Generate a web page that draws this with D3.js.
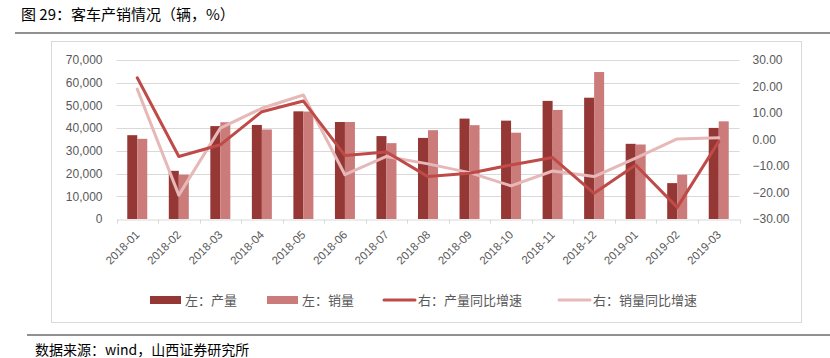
<!DOCTYPE html>
<html>
<head>
<meta charset="utf-8">
<script src="https://cdn.jsdelivr.net/npm/d3@7"></script>
<style>
  body { margin: 0; background: #fff; }
  text { font-family: "Noto Sans CJK SC", "Noto Sans", sans-serif; }
</style>
</head>
<body>
<svg id="chart" width="830" height="358"></svg>
<script>
// data
const months = ['2018-01', '2018-02', '2018-03', '2018-04', '2018-05', '2018-06', '2018-07',
  '2018-08', '2018-09', '2018-10', '2018-11', '2018-12', '2019-01', '2019-02', '2019-03'];
const production = [36900, 21200, 40900, 41400, 47400, 42700, 36500, 35700, 44200, 43300, 52000, 53400, 33100, 15800, 40100];
const sales = [35300, 19500, 42600, 39400, 47300, 42700, 33400, 39100, 41300, 38000, 48000, 64700, 32800, 19500, 43000];
const prodYoy = [23.3, -6.4, -2.0, 10.5, 14.5, -6.0, -4.7, -14.0, -12.7, -9.6, -6.8, -20.3, -9.6, -25.6, -0.8];
const salesYoy = [19.0, -21.0, 4.3, 11.8, 16.8, -13.3, -6.4, -9.2, -12.5, -17.5, -11.9, -14.0, -7.0, 0.2, 0.7];
const leftTicks = [0, 10000, 20000, 30000, 40000, 50000, 60000, 70000];
const rightTicks = [-30, -20, -10, 0, 10, 20, 30];

const colors = {
  prod: '#953735',
  sales: '#CB7B7A',
  prodLine: '#BE4B48',
  salesLine: '#E6B9B8',
};

const svg = d3.select('#chart');

// title + rules
svg.append('text').attr('x', 21).attr('y', 20)
  .attr('font-size', 15).attr('fill', '#000')
  .text('图 29：客车产销情况（辆，%）');
svg.append('line').attr('x1', 15).attr('x2', 830).attr('y1', 33).attr('y2', 33)
  .attr('stroke', '#222').attr('stroke-width', 1.2);
svg.append('line').attr('x1', 27).attr('x2', 830).attr('y1', 335).attr('y2', 335)
  .attr('stroke', '#222').attr('stroke-width', 1.2);
svg.append('text').attr('x', 35).attr('y', 355)
  .attr('font-size', 14).attr('fill', '#000')
  .text('数据来源：wind，山西证券研究所');

// chart frame
svg.append('rect').attr('x', 51.5).attr('y', 41.5).attr('width', 750).attr('height', 281)
  .attr('fill', 'none').attr('stroke', '#D9D9D9');

const x = d3.scaleBand().domain(months).range([116.5, 739.5]);
const yL = d3.scaleLinear().domain([0, 70000]).range([219, 60]);
const yR = d3.scaleLinear().domain([-30, 30]).range([219, 60]);

// gridlines
svg.append('g')
  .selectAll('line')
  .data(leftTicks.slice(1))
  .join('line')
  .attr('x1', 116.5).attr('x2', 739.5)
  .attr('y1', d => Math.round(yL(d)) + 0.5).attr('y2', d => Math.round(yL(d)) + 0.5)
  .attr('stroke', '#D9D9D9');

// left axis
const gL = svg.append('g').attr('transform', 'translate(116.5,0)')
  .call(d3.axisLeft(yL).tickValues(leftTicks).tickFormat(d3.format(',')).tickSize(0).tickPadding(14));
gL.select('.domain').remove();
gL.selectAll('text').attr('font-size', 12).attr('fill', '#595959')
  .style('font-family', '"Liberation Sans", "DejaVu Sans", sans-serif');

// right axis
const gR = svg.append('g').attr('transform', 'translate(739.5,0)')
  .call(d3.axisRight(yR).tickValues(rightTicks).tickFormat(d3.format('.2f')).tickSize(0).tickPadding(13));
gR.select('.domain').remove();
gR.selectAll('text').attr('font-size', 12).attr('fill', '#595959')
  .style('font-family', '"Liberation Sans", "DejaVu Sans", sans-serif');

// x axis
const gX = svg.append('g').attr('transform', 'translate(0,219.5)')
  .call(d3.axisBottom(x).tickSize(0).tickPadding(0));
gX.select('.domain').attr('stroke', '#D9D9D9');
gX.selectAll('.tick text')
  .attr('font-size', 11.5).attr('fill', '#595959')
  .style('font-family', '"Liberation Sans", "DejaVu Sans", sans-serif')
  .attr('text-anchor', 'end')
  .attr('dy', 0)
  .attr('transform', 'translate(3,16) rotate(-45)');
// boundary ticks between categories
gX.append('g')
  .selectAll('line')
  .data(months.concat(['end']))
  .join('line')
  .attr('x1', (d, i) => Math.round(116.5 + i * x.step()) + 0.5)
  .attr('x2', (d, i) => Math.round(116.5 + i * x.step()) + 0.5)
  .attr('y1', 0).attr('y2', 4)
  .attr('stroke', '#D9D9D9');

// bars
const barW = 10;
const bars = svg.append('g');
bars.selectAll('rect.prod')
  .data(production)
  .join('rect')
  .attr('class', 'prod')
  .attr('x', (d, i) => x(months[i]) + x.bandwidth() / 2 - barW)
  .attr('width', barW)
  .attr('y', d => yL(d))
  .attr('height', d => yL(0) - yL(d))
  .attr('fill', colors.prod);
bars.selectAll('rect.sales')
  .data(sales)
  .join('rect')
  .attr('class', 'sales')
  .attr('x', (d, i) => x(months[i]) + x.bandwidth() / 2)
  .attr('width', barW)
  .attr('y', d => yL(d))
  .attr('height', d => yL(0) - yL(d))
  .attr('fill', colors.sales);

// lines
const line = d3.line()
  .x((d, i) => x(months[i]) + x.bandwidth() / 2)
  .y(d => yR(d));
svg.append('path').datum(salesYoy).attr('d', line)
  .attr('fill', 'none').attr('stroke', colors.salesLine).attr('stroke-width', 3)
  .attr('stroke-linejoin', 'round').attr('stroke-linecap', 'round');
svg.append('path').datum(prodYoy).attr('d', line)
  .attr('fill', 'none').attr('stroke', colors.prodLine).attr('stroke-width', 3)
  .attr('stroke-linejoin', 'round').attr('stroke-linecap', 'round');

// legend
const legend = [
  { label: '左：产量', type: 'bar', color: colors.prod, x: 150 },
  { label: '左：销量', type: 'bar', color: colors.sales, x: 267 },
  { label: '右：产量同比增速', type: 'line', color: colors.prodLine, x: 383 },
  { label: '右：销量同比增速', type: 'line', color: colors.salesLine, x: 558 },
];
const lg = svg.append('g').attr('transform', 'translate(0,300)');
legend.forEach(d => {
  if (d.type === 'bar') {
    lg.append('rect').attr('x', d.x).attr('y', -4).attr('width', 31).attr('height', 8).attr('fill', d.color);
  } else {
    lg.append('line').attr('x1', d.x + 1).attr('x2', d.x + 32).attr('y1', 0).attr('y2', 0)
      .attr('stroke', d.color).attr('stroke-width', 3).attr('stroke-linecap', 'round');
  }
  lg.append('text').attr('x', d.x + 35).attr('y', 5)
    .attr('font-size', 13).attr('fill', '#595959').text(d.label);
});
</script>
</body>
</html>
